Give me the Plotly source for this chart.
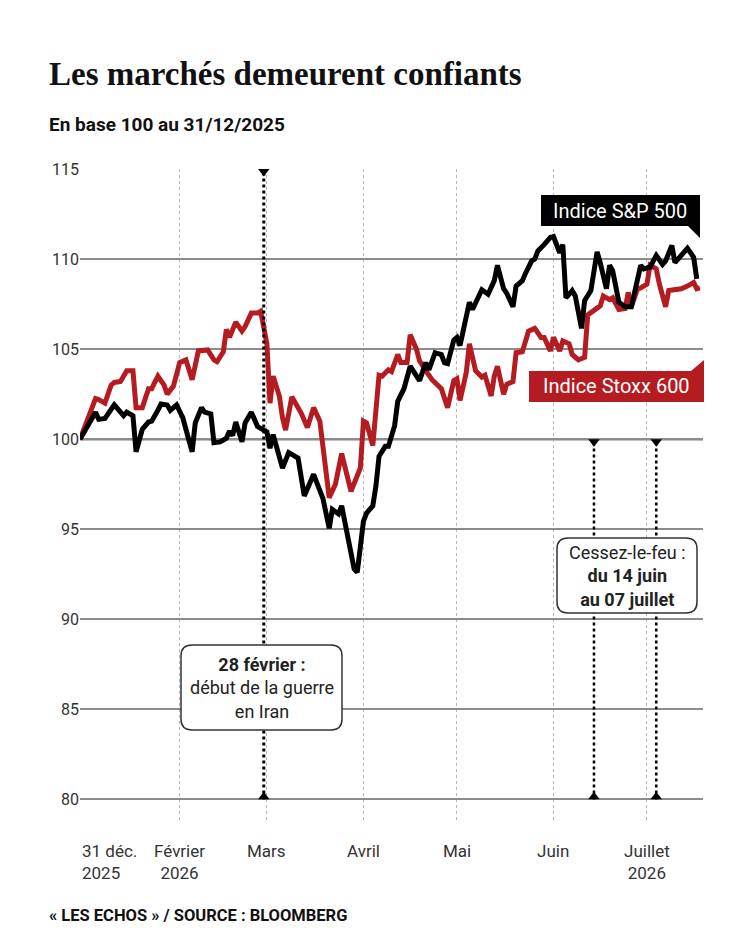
import plotly.graph_objects as go

# S&P 500, base 100 au 31/12/2025
sp_dates = [
    "2025-12-31", "2026-01-05", "2026-01-06", "2026-01-08", "2026-01-11", "2026-01-12",
    "2026-01-14", "2026-01-15", "2026-01-17", "2026-01-18", "2026-01-20", "2026-01-22",
    "2026-01-23", "2026-01-25", "2026-01-26", "2026-01-28", "2026-01-29", "2026-01-31",
    "2026-02-02", "2026-02-03", "2026-02-05", "2026-02-06", "2026-02-08", "2026-02-09",
    "2026-02-11", "2026-02-12", "2026-02-14", "2026-02-16", "2026-02-17", "2026-02-18",
    "2026-02-19", "2026-02-21", "2026-02-22", "2026-02-24", "2026-02-26", "2026-02-28",
    "2026-03-01", "2026-03-02", "2026-03-03", "2026-03-06", "2026-03-08", "2026-03-11",
    "2026-03-13", "2026-03-16", "2026-03-19", "2026-03-21", "2026-03-22", "2026-03-24",
    "2026-03-25", "2026-03-29", "2026-03-30", "2026-04-01", "2026-04-02", "2026-04-04",
    "2026-04-05", "2026-04-06", "2026-04-08", "2026-04-09", "2026-04-11", "2026-04-12",
    "2026-04-14", "2026-04-16", "2026-04-19", "2026-04-21", "2026-04-22", "2026-04-24",
    "2026-04-26", "2026-04-27", "2026-04-28", "2026-04-30", "2026-05-01", "2026-05-02",
    "2026-05-04", "2026-05-05", "2026-05-06", "2026-05-08", "2026-05-09", "2026-05-11",
    "2026-05-13", "2026-05-14", "2026-05-16", "2026-05-17", "2026-05-19", "2026-05-20",
    "2026-05-22", "2026-05-23", "2026-05-25", "2026-05-26", "2026-05-27", "2026-05-29",
    "2026-05-31", "2026-06-01", "2026-06-03", "2026-06-04", "2026-06-05", "2026-06-07",
    "2026-06-08", "2026-06-10", "2026-06-11", "2026-06-13", "2026-06-15", "2026-06-16",
    "2026-06-18", "2026-06-19", "2026-06-20", "2026-06-22", "2026-06-24", "2026-06-26",
    "2026-06-27", "2026-06-29", "2026-06-30", "2026-07-02", "2026-07-04", "2026-07-06",
    "2026-07-07", "2026-07-09", "2026-07-10", "2026-07-12", "2026-07-14", "2026-07-16",
    "2026-07-17",
]
sp_values = [
    100.0, 101.5, 101.1, 101.15, 101.9, 101.7,
    101.3, 101.5, 101.3, 99.3, 100.55, 100.95,
    101.0, 101.6, 101.95, 101.9, 101.6, 101.9,
    101.2, 100.55, 99.3, 100.9, 101.75, 101.5,
    101.4, 99.8, 99.85, 100.05, 100.45, 100.2,
    100.95, 99.85, 100.9, 101.5, 100.7, 100.5,
    100.4, 99.5, 100.25, 98.4, 99.25, 98.95,
    96.85, 98.05, 96.7, 95.05, 96.1, 95.85,
    96.3, 92.8, 92.6, 95.45, 95.9, 96.3,
    97.4, 99.05, 99.6, 99.6, 100.75, 102.1,
    102.8, 104.05, 103.25, 104.25, 103.85, 104.8,
    104.7, 104.25, 104.2, 105.5, 105.65, 105.2,
    106.65, 107.6, 107.2, 107.95, 108.3, 108.05,
    108.8, 109.65, 108.35, 108.1, 107.35, 108.5,
    108.8, 109.2, 109.9, 110.0, 110.45, 110.8,
    111.2, 111.25, 110.35, 110.8, 107.85, 108.25,
    107.95, 106.15, 107.7, 108.25, 110.4, 109.8,
    108.35, 109.65, 109.35, 107.6, 107.35, 107.35,
    108.2, 109.65, 109.45, 109.55, 110.2, 109.7,
    109.9, 110.75, 109.8, 110.2, 110.6, 110.1,
    108.9,
]

# Stoxx 600, base 100 au 31/12/2025
stoxx_dates = [
    "2025-12-31", "2026-01-05", "2026-01-06", "2026-01-08", "2026-01-10", "2026-01-11",
    "2026-01-13", "2026-01-15", "2026-01-17", "2026-01-18", "2026-01-20", "2026-01-22",
    "2026-01-23", "2026-01-25", "2026-01-27", "2026-01-28", "2026-01-30", "2026-02-01",
    "2026-02-03", "2026-02-05", "2026-02-07", "2026-02-09", "2026-02-10", "2026-02-12",
    "2026-02-13", "2026-02-15", "2026-02-16", "2026-02-17", "2026-02-19", "2026-02-21",
    "2026-02-22", "2026-02-24", "2026-02-26", "2026-02-27", "2026-03-01", "2026-03-02",
    "2026-03-03", "2026-03-05", "2026-03-06", "2026-03-07", "2026-03-09", "2026-03-12",
    "2026-03-14", "2026-03-16", "2026-03-18", "2026-03-21", "2026-03-23", "2026-03-25",
    "2026-03-28", "2026-03-31", "2026-04-01", "2026-04-02", "2026-04-04", "2026-04-06",
    "2026-04-07", "2026-04-09", "2026-04-10", "2026-04-12", "2026-04-13", "2026-04-15",
    "2026-04-16", "2026-04-18", "2026-04-19", "2026-04-21", "2026-04-23", "2026-04-26",
    "2026-04-28", "2026-04-30", "2026-05-01", "2026-05-02", "2026-05-04", "2026-05-05",
    "2026-05-07", "2026-05-09", "2026-05-10", "2026-05-12", "2026-05-13", "2026-05-14",
    "2026-05-16", "2026-05-17", "2026-05-19", "2026-05-20", "2026-05-22", "2026-05-24",
    "2026-05-26", "2026-05-28", "2026-05-29", "2026-05-31", "2026-06-01", "2026-06-03",
    "2026-06-04", "2026-06-06", "2026-06-07", "2026-06-09", "2026-06-11", "2026-06-12",
    "2026-06-14", "2026-06-16", "2026-06-17", "2026-06-19", "2026-06-20", "2026-06-22",
    "2026-06-24", "2026-06-25", "2026-06-26", "2026-06-28", "2026-06-29", "2026-07-01",
    "2026-07-02", "2026-07-04", "2026-07-05", "2026-07-07", "2026-07-08", "2026-07-10",
    "2026-07-12", "2026-07-14", "2026-07-16", "2026-07-17", "2026-07-18",
]
stoxx_values = [
    100.0, 102.25, 102.2, 102.0, 103.0, 103.15,
    103.2, 103.8, 103.8, 101.75, 101.75, 102.8,
    102.8, 103.5, 103.0, 102.5, 102.95, 104.25,
    104.4, 103.3, 104.9, 104.9, 104.95, 104.4,
    104.3, 104.85, 106.1, 105.65, 106.5, 106.0,
    106.25, 107.0, 107.0, 107.1, 105.3, 102.0,
    103.5, 102.4, 101.2, 100.5, 102.35, 101.45,
    100.65, 101.75, 101.0, 96.75, 97.5, 99.2,
    97.1, 98.4, 101.0, 100.9, 99.65, 103.55,
    103.5, 103.85, 103.75, 104.7, 104.25, 104.25,
    105.8, 105.0, 104.35, 103.8, 103.3, 102.8,
    101.75, 103.25, 103.35, 102.15, 103.7, 105.3,
    103.8, 103.45, 103.55, 102.4, 103.5, 104.05,
    102.5, 103.05, 103.2, 104.8, 104.85, 106.0,
    106.15, 105.65, 105.65, 104.9, 105.65, 104.9,
    105.45, 105.3, 104.7, 104.4, 104.55, 106.9,
    107.15, 107.4, 107.95, 107.75, 107.85, 107.2,
    107.25, 108.15, 107.35, 108.35, 108.4, 108.6,
    109.65, 109.45, 108.6, 107.35, 108.25, 108.3,
    108.35, 108.5, 108.7, 108.35, 108.4,
]

# axis ticks
month_dates = ["2025-12-31", "2026-02-01", "2026-03-01", "2026-04-01",
               "2026-05-01", "2026-06-01", "2026-07-01"]
month_labels = ["31 déc.<br>2025", "Février<br>2026", "Mars", "Avril",
                "Mai", "Juin", "Juillet<br>2026"]
y_ticks = [80, 85, 90, 95, 100, 105, 110, 115]

# events
war_date = "2026-02-28"
ceasefire_dates = ["2026-06-14", "2026-07-04"]

RED = "#b51c22"
TXT = "#222222"
SANS = "Roboto, Arial, sans-serif"

# plot area in page pixels (the page body adds an 8px offset)
W, H = 750, 938
OFF = 8
L, R, T, B = 80, 703, 169, 821


def px(x):
    return (x - L) / (R - L)


def py(y):
    return (B - y) / (B - T)


def rounded_box(x0, y0, x1, y1, r):
    X0, X1, Y0, Y1 = px(x0), px(x1), py(y1), py(y0)
    rx, ry = r / (R - L), r / (B - T)
    return (f"M {X0+rx},{Y0} L {X1-rx},{Y0} Q {X1},{Y0} {X1},{Y0+ry} "
            f"L {X1},{Y1-ry} Q {X1},{Y1} {X1-rx},{Y1} L {X0+rx},{Y1} "
            f"Q {X0},{Y1} {X0},{Y1-ry} L {X0},{Y0+ry} Q {X0},{Y0} {X0+rx},{Y0} Z")


def polygon(points):
    return "M " + " L ".join(f"{px(x)},{py(y)}" for x, y in points) + " Z"


fig = go.Figure()

fig.add_trace(go.Scatter(x=stoxx_dates, y=stoxx_values, mode="lines",
                         line=dict(color=RED, width=5), name="Indice Stoxx 600"))
fig.add_trace(go.Scatter(x=sp_dates, y=sp_values, mode="lines",
                         line=dict(color="black", width=5), name="Indice S&P 500"))

# event markers (little triangles sitting on the lines)
fig.add_trace(go.Scatter(x=[war_date], y=[114.86], mode="markers", cliponaxis=False,
                         marker=dict(symbol="triangle-down", size=10, color="black")))
fig.add_trace(go.Scatter(x=ceasefire_dates, y=[99.86, 99.86], mode="markers", cliponaxis=False,
                         marker=dict(symbol="triangle-down", size=10, color="black")))
fig.add_trace(go.Scatter(x=[war_date] + ceasefire_dates, y=[80.14] * 3, mode="markers",
                         cliponaxis=False,
                         marker=dict(symbol="triangle-up", size=10, color="black")))

shapes = []
# base 100 line
shapes.append(dict(type="line", xref="paper", x0=0, x1=1, y0=100, y1=100,
                   line=dict(color="black", width=2), layer="between"))
# event lines
shapes.append(dict(type="line", x0=war_date, x1=war_date, y0=80, y1=115,
                   line=dict(color="black", width=3, dash="dot")))
for d in ceasefire_dates:
    shapes.append(dict(type="line", x0=d, x1=d, y0=80, y1=100,
                       line=dict(color="black", width=2.5, dash="dot")))
# note boxes
shapes.append(dict(type="path", xref="paper", yref="paper",
                   path=rounded_box(181, 645, 342, 730, 11),
                   fillcolor="white", line=dict(color="#333333", width=1.5)))
shapes.append(dict(type="path", xref="paper", yref="paper",
                   path=rounded_box(557, 538, 697, 613, 11),
                   fillcolor="white", line=dict(color="#333333", width=1.5)))
# series labels
shapes.append(dict(type="path", xref="paper", yref="paper",
                   path=polygon([(541, 195), (700, 195), (700, 238), (688, 226), (541, 226)]),
                   fillcolor="black", line=dict(width=0)))
shapes.append(dict(type="path", xref="paper", yref="paper",
                   path=polygon([(529, 371), (691, 371), (704, 360), (704, 402), (529, 402)]),
                   fillcolor=RED, line=dict(width=0)))

annotations = [
    dict(text="Les marchés demeurent confiants", x=px(47), y=py(74), xanchor="left",
         yanchor="middle", font=dict(family="Liberation Serif, serif", size=33,
                                     color="#111111", weight="bold")),
    dict(text="<b>En base 100 au 31/12/2025</b>", x=px(47), y=py(125), xanchor="left",
         yanchor="middle", font=dict(family=SANS, size=19, color="#111111")),
    dict(text="<b>« LES ECHOS » / SOURCE : BLOOMBERG</b>", x=px(47), y=py(915),
         xanchor="left", yanchor="middle", font=dict(family=SANS, size=16.5, color="#111111")),
    dict(text="Indice S&P 500", x=px(620), y=py(211), xanchor="center", yanchor="middle",
         font=dict(family=SANS, size=20, color="white")),
    dict(text="Indice Stoxx 600", x=px(616), y=py(386), xanchor="center", yanchor="middle",
         font=dict(family=SANS, size=20, color="white")),
    dict(text="<b>28 février :</b><br>début de la guerre<br>en Iran", x=px(261.5), y=py(688),
         xanchor="center", yanchor="middle", align="center",
         font=dict(family=SANS, size=18, color=TXT)),
    dict(text="Cessez-le-feu :<br><b>du 14 juin</b><br><b>au 07 juillet</b>", x=px(627),
         y=py(576), xanchor="center", yanchor="middle", align="center",
         font=dict(family=SANS, size=18, color=TXT)),
]
for i, (d, lab) in enumerate(zip(month_dates, month_labels)):
    annotations.append(dict(text=lab, x=d, xref="x", y=py(839), yref="paper",
                            xanchor="left" if i == 0 else "center",
                            align="left" if i == 0 else "center", yanchor="top",
                            font=dict(family=SANS, size=17, color="#333333")))
for a in annotations:
    a.setdefault("xref", "paper")
    a.setdefault("yref", "paper")
    a["showarrow"] = False

fig.update_layout(
    template="none",
    width=W, height=H,
    margin=dict(l=L - OFF, r=W - R + OFF, t=T - OFF, b=H - B + OFF),
    paper_bgcolor="white", plot_bgcolor="white",
    showlegend=False,
    shapes=shapes,
    annotations=annotations,
    xaxis=dict(type="date", range=["2025-12-31", "2026-07-19"], tickvals=month_dates,
               showticklabels=False, ticks="", showgrid=True, gridcolor="#b5b5b5",
               gridwidth=1.2, griddash="dot", zeroline=False, showline=False),
    yaxis=dict(range=[78.8, 115], tickvals=y_ticks, ticks="", showgrid=True,
               gridcolor="#8c8c8c", gridwidth=1.5, zeroline=False, showline=False,
               tickfont=dict(family=SANS, size=16, color="#333333")),
)

fig.write_html("out.html")
